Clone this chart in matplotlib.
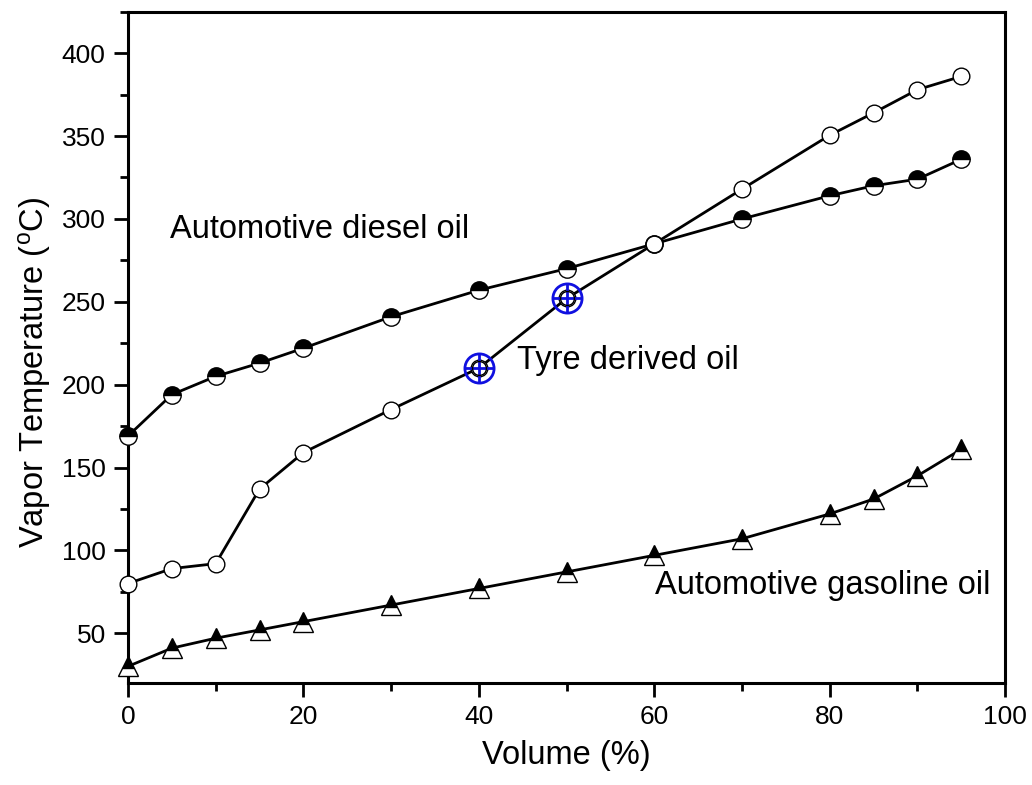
import matplotlib
matplotlib.use("Agg")
import matplotlib.pyplot as plt
from matplotlib.ticker import MultipleLocator

plt.rcParams['font.family'] = ['Liberation Sans', 'DejaVu Sans']
plt.rcParams['mathtext.fontset'] = 'custom'
plt.rcParams['mathtext.rm'] = 'Liberation Sans'
plt.rcParams['mathtext.it'] = 'Liberation Sans'

volume = [0, 5, 10, 15, 20, 30, 40, 50, 60, 70, 80, 85, 90, 95]
diesel = [169, 194, 205, 213, 222, 241, 257, 270, 285, 300, 314, 320, 324, 336]
tyre = [80, 89, 92, 137, 159, 185, 210, 252, 285, 318, 350.5, 364, 378, 386]
gasoline = [30, 41, 47, 52, 57, 67, 77, 87, 97, 107, 122, 131, 145, 161]
highlight_x = [40, 50]
highlight_y = [210, 252]

fig = plt.figure(figsize=(10.32, 7.85), dpi=100)
ax = fig.add_axes([0.124, 0.130, 0.850, 0.855])

common = dict(color='black', lw=2.0, markeredgewidth=1.0,
              markeredgecolor='black', clip_on=False, zorder=3)
ax.plot(volume, diesel, marker='o', markersize=12.5, fillstyle='top', markerfacecolor='black',
        markerfacecoloralt='white', **common)
ax.plot(volume, tyre, marker='o', markersize=12, markerfacecolor='white', **common)
ax.plot(volume, gasoline, marker='^', markersize=14, fillstyle='top', markerfacecolor='black',
        markerfacecoloralt='white', **common)

ax.plot(highlight_x, highlight_y, ls='none', marker='o', markersize=21,
        markerfacecolor='none', markeredgecolor='#1010e0', markeredgewidth=2.0, zorder=4)
ax.plot(highlight_x, highlight_y, ls='none', marker='+', markersize=21,
        markeredgecolor='#1010e0', markeredgewidth=2.0, zorder=4)
ax.plot(highlight_x, highlight_y, ls='none', marker='o', markersize=10,
        markerfacecolor='none', markeredgecolor='black', markeredgewidth=1.0, zorder=5)

ax.set_xlim(0, 100)
ax.set_ylim(20, 425)
ax.xaxis.set_major_locator(MultipleLocator(20))
ax.xaxis.set_minor_locator(MultipleLocator(10))
ax.yaxis.set_major_locator(MultipleLocator(50))
ax.yaxis.set_minor_locator(MultipleLocator(25))
ax.set_yticks([50, 100, 150, 200, 250, 300, 350, 400])

ax.tick_params(which='major', direction='out', length=10, width=2.0, labelsize=19, pad=6)
ax.tick_params(which='minor', direction='out', length=6, width=2.0)
for s in ax.spines.values():
    s.set_linewidth(2.2)

ax.set_xlabel('Volume (%)', fontsize=23.5, labelpad=8)
ax.set_ylabel('Vapor Temperature ($^{\\mathrm{o}}$C)', fontsize=23.5)
ax.yaxis.set_label_coords(-0.085, 0.462)

ax.text(4.8, 293.7, 'Automotive diesel oil', fontsize=23.5, va='center', ha='left')
ax.text(44.4, 214.6, 'Tyre derived oil', fontsize=23.5, va='center', ha='left')
ax.text(60.1, 78.7, 'Automotive gasoline oil', fontsize=23.5, va='center', ha='left')

fig.savefig('out.png', dpi=100)
